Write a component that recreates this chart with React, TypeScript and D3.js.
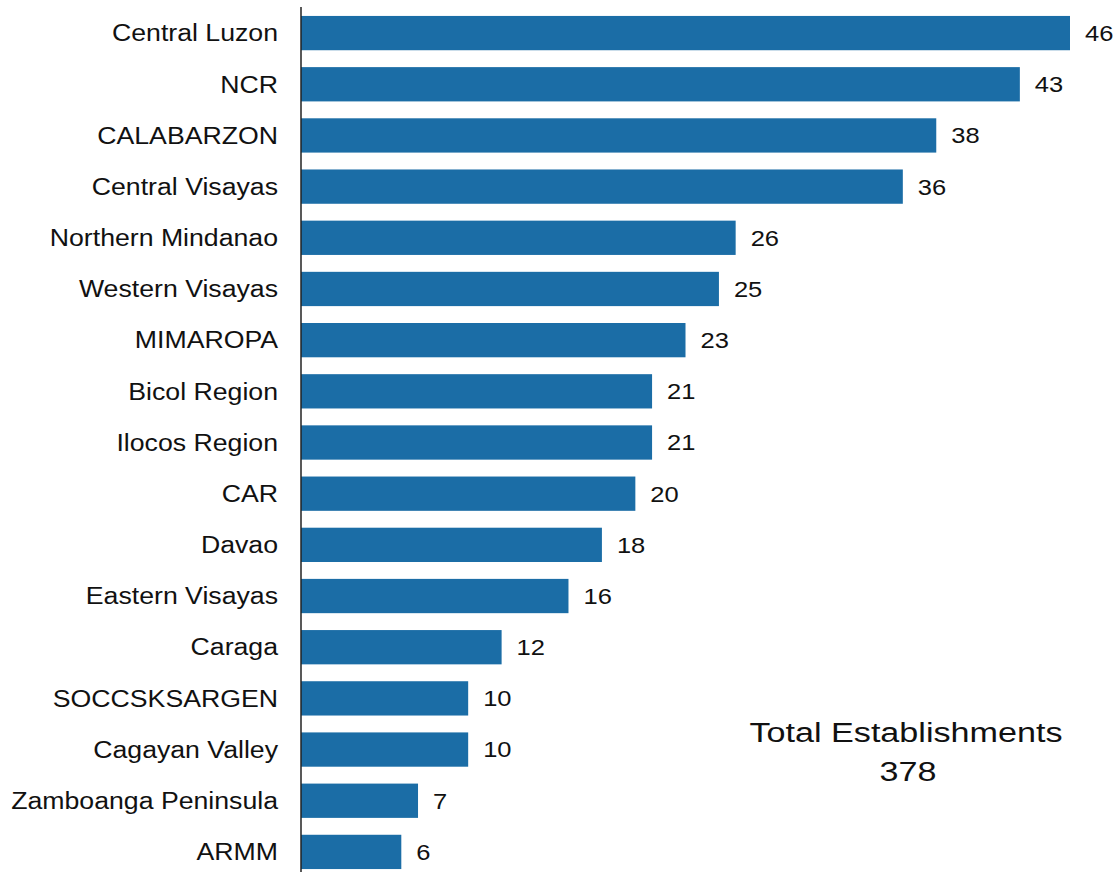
import { useMemo } from "react";
import { scaleLinear, scaleBand } from "d3";

const regions = [
  "Central Luzon",
  "NCR",
  "CALABARZON",
  "Central Visayas",
  "Northern Mindanao",
  "Western Visayas",
  "MIMAROPA",
  "Bicol Region",
  "Ilocos Region",
  "CAR",
  "Davao",
  "Eastern Visayas",
  "Caraga",
  "SOCCSKSARGEN",
  "Cagayan Valley",
  "Zamboanga Peninsula",
  "ARMM",
];

const establishments = [46, 43, 38, 36, 26, 25, 23, 21, 21, 20, 18, 16, 12, 10, 10, 7, 6];

const totalLabel = "Total Establishments";
const totalValue = "378";

const W = 1119;
const H = 872;
const BAR = "#1b6da6";
const FONT = "Liberation Sans, Arial, sans-serif";
// the source picture is slightly stretched sideways
const SX = 1.16;

export default function App() {
  const x = useMemo(() => scaleLinear().domain([0, 46]).range([301, 1070]), []);
  const y = useMemo(
    () => scaleBand<string>().domain(regions).range([7.5, 877.5]).paddingInner(0.33).paddingOuter(0.165),
    []
  );

  return (
    <svg
      width={W}
      height={H}
      style={{ position: "absolute", left: 0, top: 0, background: "#fff" }}
    >
      {regions.map((r, i) => {
        const v = establishments[i];
        const yy = y(r) ?? 0;
        const cy = yy + y.bandwidth() / 2;
        return (
          <g key={r}>
            <rect x={x(0)} y={yy} width={x(v) - x(0)} height={y.bandwidth()} fill={BAR} />
            <text
              transform={`translate(278,${cy}) scale(${SX},1)`}
              dy="0.36em"
              textAnchor="end"
              fontFamily={FONT}
              fontSize={23}
              fill="#111"
            >
              {r}
            </text>
            <text
              transform={`translate(${x(v) + 15},${cy}) scale(${SX},1)`}
              dy="0.36em"
              fontFamily={FONT}
              fontSize={22}
              fill="#111"
            >
              {v}
            </text>
          </g>
        );
      })}
      <line x1={x(0)} x2={x(0)} y1={7} y2={H} stroke="#222" strokeWidth={1.5} />
      <text
        transform={`translate(906,742) scale(1.22,1)`}
        textAnchor="middle"
        fontFamily={FONT}
        fontSize={28}
        fill="#111"
      >
        {totalLabel}
      </text>
      <text
        transform={`translate(908,781) scale(1.22,1)`}
        textAnchor="middle"
        fontFamily={FONT}
        fontSize={28}
        fill="#111"
      >
        {totalValue}
      </text>
    </svg>
  );
}
